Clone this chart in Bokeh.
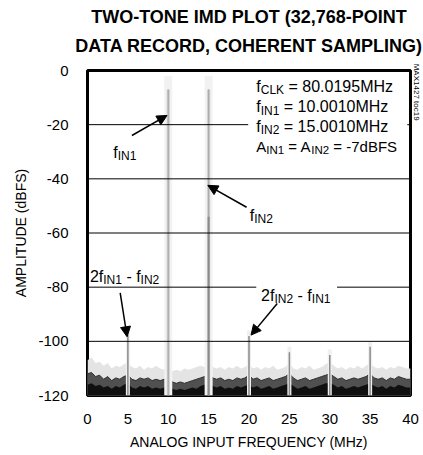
from bokeh.plotting import figure
from bokeh.models import Label, Span, Arrow, NormalHead, FixedTicker, BoxAnnotation, Title, LinearAxis
from bokeh.embed import file_html
from bokeh.resources import INLINE

# ---------------- data ----------------
x_ticks = [0, 5, 10, 15, 20, 25, 30, 35, 40]
x_tick_labels = ["0", "5", "10", "15", "20", "25", "30", "35", "40"]
y_ticks = [0, -20, -40, -60, -80, -100, -120]
y_tick_labels = ["0", "-20", "-40", "-60", "-80", "-100", "-120"]
grid_levels = [-20, -40, -60, -80, -100]

tone_freq = [10.001, 15.001]          # MHz
tone_amp = [-7.0, -7.0]               # dBFS
tone_dark_top = [-120.0, -54.0]       # lower, darker part of each tone trace

spur_freq = [5.0, 20.0, 25.0, 30.0, 35.0]
spur_amp = [-97.5, -98.0, -104.0, -105.0, -102.0]

noise_freq = [i * 0.5 for i in range(81)]
noise_hi = [-107, -106, -108, -107.5, -109, -108, -110, -109, -109.5, -108.5,
            -108, -109.5, -110, -109, -110.5, -109.5, -110, -109, -110, -110.5,
            -109.5, -111, -110.5, -111, -110, -110.5, -110, -109.5, -109, -109.5,
            -108.5, -109.5, -110, -109.5, -110.5, -109.5, -110, -109, -110, -109.5,
            -108.5, -110, -109.5, -110.5, -109.5, -110, -109, -110.5, -110, -109.5,
            -108, -110, -110.5, -109.5, -110, -109, -110.5, -110, -109.5, -108.5,
            -107.5, -109, -110, -109.5, -110.5, -109.5, -110, -109, -110, -109,
            -108, -109.5, -110, -109.5, -110.5, -109.5, -110, -109, -109.5, -110, -110]
noise_mid = [-112, -111.5, -113, -112.5, -114, -113, -114.5, -113.5, -114, -113,
             -112.5, -114, -114.5, -113.5, -114, -113.5, -114.5, -114, -114.5, -114,
             -113.5, -115, -115.5, -115, -115.5, -115, -114.5, -114, -113.5, -113,
             -112, -113.5, -114, -113.5, -114.5, -114, -114.5, -113.5, -114, -113.5,
             -112.5, -114, -113.5, -114.5, -114, -113.5, -114.5, -114, -113.5, -113,
             -112, -113.5, -114.5, -114, -113.5, -114.5, -114, -113.5, -113, -112.5,
             -112, -113, -114, -113.5, -114.5, -114, -113.5, -114, -113.5, -113,
             -112, -113.5, -114, -113.5, -114.5, -113.5, -114, -113, -113.5, -114, -114]
noise_lo = [-116, -115.5, -116.5, -116, -117, -116.5, -117.5, -116.5, -117, -116,
            -115.5, -117, -117.5, -116.5, -117, -116.5, -117.5, -117, -117.5, -117,
            -116.5, -117.5, -118, -117.5, -118, -117.5, -117, -117.5, -116.5, -116,
            -115.5, -116.5, -117, -116.5, -117.5, -117, -117.5, -116.5, -117, -116.5,
            -116, -117, -116.5, -117.5, -117, -116.5, -117.5, -117, -116.5, -116,
            -115.5, -116.5, -117.5, -117, -116.5, -117.5, -117, -116.5, -116, -115.5,
            -115.5, -116, -117, -116.5, -117.5, -117, -116.5, -117, -116.5, -116,
            -115.5, -116.5, -117, -116.5, -117.5, -116.5, -117, -116, -116.5, -117, -117]

# ---------------- styling ----------------
FONT = "Liberation Sans"
W = {' ': 278, '-': 333, '.': 278, ',': 278, '=': 584, '(': 333, ')': 333,
     'A': 667, 'B': 667, 'C': 722, 'D': 722, 'E': 667, 'F': 611, 'G': 778, 'H': 722,
     'I': 278, 'K': 667, 'L': 556, 'M': 833, 'N': 722, 'O': 778, 'P': 667, 'S': 667,
     'T': 611, 'f': 278, 'd': 556, 'z': 500}


def tw(s, size):
    return sum(W.get(c, 556) for c in s) / 1000.0 * size


p = figure(width=423, height=454, x_range=(0, 40), y_range=(-120, 0),
           output_backend="svg", toolbar_location=None,
           min_border_left=87, min_border_right=11, min_border_top=70, min_border_bottom=59)
p.background_fill_color = "white"
p.border_fill_color = "white"
p.outline_line_color = "black"
p.outline_line_width = 3
p.xgrid.visible = False
p.ygrid.visible = False

# title (two lines, stacked above the frame)
p.title.text = "TWO-TONE IMD PLOT (32,768-POINT"
p.title.align = "center"
p.title.text_font = FONT
p.title.text_font_size = "18px"
p.title.text_font_style = "bold"
p.title.text_color = "black"
p.title.standoff = -16
p.add_layout(Title(text="DATA RECORD, COHERENT SAMPLING)", align="center", text_font=FONT,
                   text_font_size="18px", text_font_style="bold", text_color="black",
                   standoff=30), "above")

for ax in (p.xaxis[0], p.yaxis[0]):
    ax.axis_line_color = None
    ax.major_tick_line_color = None
    ax.minor_tick_line_color = None
    ax.major_tick_out = 0
    ax.major_tick_in = 0
    ax.minor_tick_out = 0
    ax.minor_tick_in = 0
    ax.major_label_text_font = FONT
    ax.major_label_text_font_size = "15px"
    ax.major_label_text_color = "black"
    ax.axis_label_text_font = FONT
    ax.axis_label_text_font_size = "14px"
    ax.axis_label_text_font_style = "normal"
    ax.axis_label_text_color = "black"

p.xaxis.ticker = FixedTicker(ticks=x_ticks)
p.yaxis.ticker = FixedTicker(ticks=y_ticks)
p.xaxis.major_label_overrides = dict(zip(x_ticks, x_tick_labels))
p.yaxis.major_label_overrides = dict(zip(y_ticks, y_tick_labels))
p.xaxis.axis_label = "ANALOG INPUT FREQUENCY (MHz)"
p.yaxis.axis_label = "AMPLITUDE (dBFS)"
p.xaxis.major_label_standoff = 18
p.yaxis.major_label_standoff = 19
p.xaxis.axis_label_standoff = 7
p.yaxis.axis_label_standoff = 6

# figure id, written vertically at the top right outside the frame
fig_id_pos = [-8.0]
rax = LinearAxis(ticker=FixedTicker(ticks=fig_id_pos),
                 major_label_overrides={fig_id_pos[0]: "MAX1427 toc19"},
                 major_label_orientation="vertical", major_label_standoff=1,
                 major_label_text_font=FONT, major_label_text_font_size="8px",
                 major_label_text_color="black",
                 major_tick_out=0, major_tick_in=0, minor_tick_out=0, minor_tick_in=0,
                 axis_label_standoff=0,
                 axis_line_color=None, major_tick_line_color=None, minor_tick_line_color=None)
p.add_layout(rax, "right")

# ---------------- spectrum ----------------
p.varea(x=noise_freq, y1=-120, y2=noise_hi, fill_color="#e4e4e4")
p.varea(x=noise_freq, y1=-120, y2=noise_mid, fill_color="#505050")
p.varea(x=noise_freq, y1=-120, y2=noise_lo, fill_color="#101010")
p.line(x=noise_freq, y=noise_mid, line_color="#303030", line_width=1)

p.segment(x0=tone_freq, y0=[-120] * len(tone_freq), x1=tone_freq, y1=[a + 5 for a in tone_amp],
          line_color="#f2f2f2", line_width=8)
p.segment(x0=tone_freq, y0=[-120] * len(tone_freq), x1=tone_freq, y1=tone_amp,
          line_color="#cacaca", line_width=3)
p.segment(x0=tone_freq, y0=[-120] * len(tone_freq), x1=tone_freq, y1=tone_amp,
          line_color="#a8a8a8", line_width=1)
p.segment(x0=tone_freq[1:], y0=[-120], x1=tone_freq[1:], y1=tone_dark_top[1:],
          line_color="#8c8c8c", line_width=2)

p.segment(x0=spur_freq, y0=[-120] * len(spur_freq), x1=spur_freq, y1=[a + 2 for a in spur_amp],
          line_color="#f0f0f0", line_width=4)
p.segment(x0=spur_freq, y0=[-120] * len(spur_freq), x1=spur_freq, y1=spur_amp,
          line_color="#8a8a8a", line_width=1.5)

# ---------------- grid lines (over the spectrum) ----------------
for g in grid_levels:
    p.add_layout(Span(location=g, dimension="width", line_color="black", line_width=1))

# white gaps behind labels that sit on grid lines
p.add_layout(BoxAnnotation(left=19.9, right=39.6, top=-16.5, bottom=-24.5,
                           fill_color="white", fill_alpha=1, line_color=None))
p.add_layout(BoxAnnotation(left=20.9, right=30.9, top=-77.5, bottom=-84.5,
                           fill_color="white", fill_alpha=1, line_color=None))


def rich(x, y, parts, size=16, sub=12, drop=4):
    """Place text pieces side by side; subscripts smaller and lowered."""
    off = 0.0
    for txt, is_sub in parts:
        fs = sub if is_sub else size
        lead = len(txt) - len(txt.lstrip(" "))
        off += tw(" " * lead, fs)
        body = txt.strip(" ")
        p.add_layout(Label(x=x, y=y, x_offset=off, y_offset=-drop if is_sub else 0,
                           text=body, text_font=FONT, text_font_size=f"{fs}px",
                           text_color="black", text_align="left", text_baseline="alphabetic"))
        off += tw(txt.lstrip(" "), fs)


# ---------------- conditions block ----------------
bx = 20.9
rich(bx, -5.9, [("f", False), ("CLK", True), (" = 80.0195MHz", False)])
rich(bx, -13.3, [("f", False), ("IN1", True), (" = 10.0010MHz", False)])
rich(bx, -20.65, [("f", False), ("IN2", True), (" = 15.0010MHz", False)])
rich(bx, -28.0, [("A", False), ("IN1", True), (" = A", False), ("IN2", True), (" = -7dBFS", False)],
     size=15, sub=11.5)

# ---------------- callouts ----------------
rich(3.2, -30.1, [("f", False), ("IN1", True)])
rich(20.1, -53.5, [("f", False), ("IN2", True)])
rich(0.3, -75.9, [("2f", False), ("IN1", True), (" - f", False), ("IN2", True)])
rich(21.5, -82.9, [("2f", False), ("IN2", True), (" - f", False), ("IN1", True)])

for (xs, ys, xe, ye) in [(5.5, -24.0, 9.85, -16.6), (19.7, -50.5, 14.9, -42.4),
                         (4.05, -82.1, 4.9, -98.3), (23.5, -86.0, 20.25, -97.7)]:
    p.add_layout(Arrow(x_start=xs, y_start=ys, x_end=xe, y_end=ye, line_width=1.5,
                       line_color="black",
                       end=NormalHead(size=10, fill_color="black", line_color="black")))

open("out.html", "w").write(file_html(p, INLINE))
